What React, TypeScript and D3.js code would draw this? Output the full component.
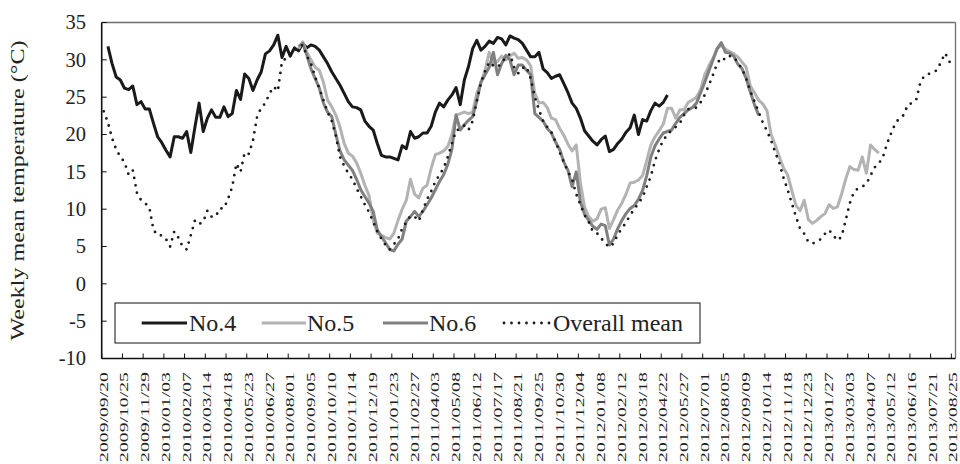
import React from "react";
import * as d3 from "d3";

// Weekly categories: 206 weeks from 2009/09/20 to 2013/08/25; a label every 5th week
const tickLabels = [
  "2009/09/20","2009/10/25","2009/11/29","2010/01/03","2010/02/07","2010/03/14","2010/04/18",
  "2010/05/23","2010/06/27","2010/08/01","2010/09/05","2010/10/10","2010/11/14","2010/12/19",
  "2011/01/23","2011/02/27","2011/04/03","2011/05/08","2011/06/12","2011/07/17","2011/08/21",
  "2011/09/25","2011/10/30","2011/12/04","2012/01/08","2012/02/12","2012/03/18","2012/04/22",
  "2012/05/27","2012/07/01","2012/08/05","2012/09/09","2012/10/14","2012/11/18","2012/12/23",
  "2013/01/27","2013/03/03","2013/04/07","2013/05/12","2013/06/16","2013/07/21","2013/08/25",
];
const weekCount = 206;
const yTicks = [-10, -5, 0, 5, 10, 15, 20, 25, 30, 35];

// No.4 (weeks 0..136)
const no4: (number | null)[] = [
  null, 31.8, 29.5, 27.7, 27.3, 26.2, 26.0, 26.5, 24.0, 24.4,
  23.4, 23.4, 21.5, 19.7, 18.9, 17.9, 17.0, 19.7, 19.7, 19.5,
  20.4, 17.6, 21.0, 24.2, 20.4, 22.2, 23.3, 22.3, 22.3, 23.7,
  22.4, 22.8, 25.9, 24.7, 28.1, 27.5, 25.9, 27.3, 28.4, 30.8,
  31.2, 32.0, 33.3, 30.3, 31.8, 30.5, 31.6, 31.2, 32.2, 31.6,
  32.0, 31.8, 31.3, 30.4, 29.5, 28.4, 27.5, 26.6, 25.5, 24.4,
  23.7, 23.6, 23.3, 21.8, 21.1, 20.6, 18.8, 17.2, 17.0, 17.0,
  16.8, 16.6, 18.5, 18.1, 20.4, 19.5, 19.7, 20.2, 20.2, 21.1,
  23.0, 24.2, 23.7, 24.6, 25.3, 26.3, 24.0, 27.3, 29.1, 31.5,
  32.6, 31.3, 31.8, 32.5, 32.2, 33.0, 32.8, 32.0, 33.2, 32.9,
  32.7, 32.2, 31.3, 30.4, 30.4, 31.0, 28.8, 28.3, 27.5, 27.8,
  28.0, 26.8, 25.6, 24.2, 23.5, 22.2, 20.5, 19.8, 19.1, 18.6,
  19.3, 19.8, 17.7, 18.0, 18.8, 19.4, 20.3, 20.9, 22.6, 20.0,
  22.0, 21.8, 23.2, 24.2, 23.8, 24.3, 25.3,
];

// No.5 (weeks 47..187)
const no5Start = 47;
const no5Values = [
  31.5, 32.4, 31.0, 30.0, 29.0, 28.6, 27.0, 24.6, 23.7, 22.6,
  21.0, 18.8, 17.5, 17.1, 16.2, 14.8, 13.2, 11.8, 8.5, 6.8,
  6.5, 6.2, 6.0, 6.8, 8.5, 10.0, 11.2, 14.0, 12.0, 11.5,
  12.8, 13.2, 15.5, 17.3, 17.5, 17.8, 18.4, 20.0, 22.6, 22.8,
  23.0, 22.8, 23.0, 25.5, 27.0, 28.6, 31.0, 29.5, 29.8, 30.5,
  30.0, 30.5, 30.9, 30.2, 30.3, 30.0, 29.2, 25.5, 24.2, 24.3,
  23.6, 22.2, 22.0, 20.8, 19.9, 18.7, 17.8, 18.6, 13.5, 10.3,
  9.0, 8.4, 8.7, 10.0, 10.2, 7.4, 8.6, 9.9, 10.8, 12.0,
  13.5, 13.6, 13.9, 14.5, 16.5, 18.6, 19.7, 20.5, 21.4, 23.5,
  23.5, 22.2, 23.3, 23.3, 24.3, 24.6, 25.0, 26.0, 28.0, 29.2,
  30.2, 31.5, 32.0, 31.4, 31.1, 30.8, 30.4, 29.7, 29.0, 26.5,
  25.6, 24.6, 24.1, 23.2, 20.0, 18.6, 17.0, 15.5, 14.6, 12.5,
  10.5, 9.8, 11.2, 8.6, 8.1, 8.5, 9.0, 9.4, 10.6, 10.1,
  10.3, 12.0, 14.0, 15.7, 15.3, 15.2, 17.0, 14.8, 18.6, 18.0,
  17.5,
];

// No.6 (weeks 47..158)
const no6Start = 47;
const no6Values = [
  31.8, 32.2, 30.6, 28.8, 27.5, 26.2, 24.2, 23.0, 22.4, 20.0,
  17.8, 16.6, 15.9, 15.2, 14.0, 12.6, 11.7, 10.8, 9.7, 7.2,
  6.3, 5.5, 4.6, 4.4, 5.3, 6.0, 8.4, 9.0, 9.7, 9.0,
  9.7, 10.6, 11.5, 12.6, 13.7, 14.6, 16.0, 18.0, 22.6, 20.6,
  21.3, 21.9, 22.4, 24.5, 27.0, 28.0, 29.0, 31.0, 28.0, 29.5,
  30.6, 30.0, 28.0, 29.3, 29.3, 28.6, 28.0, 22.8, 22.3, 21.8,
  20.8, 20.2, 19.0, 18.0, 16.3, 15.2, 13.0, 15.0, 11.0, 9.3,
  8.5, 7.7, 7.3, 8.0, 7.8, 5.2, 6.0, 7.4, 8.5, 9.4,
  10.1, 10.5, 11.3, 12.5, 14.5, 17.0, 18.5, 19.4, 20.2, 20.4,
  20.6, 21.5, 22.3, 22.8, 23.3, 23.6, 24.2, 25.6, 27.0, 28.5,
  30.0, 31.5, 32.3, 31.0, 30.9, 30.5, 29.4, 28.8, 27.5, 25.7,
  24.0, 22.6,
];

// Overall mean (weeks 0..205)
const overallMean = [
  23.1, 21.6, 19.5, 18.0, 17.0, 16.3, 14.6, 15.2, 12.2, 11.2,
  10.8, 10.2, 7.2, 6.5, 6.5, 6.0, 5.0, 7.0, 6.2, 5.0,
  4.6, 6.5, 8.5, 8.0, 8.3, 9.8, 9.0, 9.0, 10.1, 10.1,
  11.4, 13.0, 16.1, 15.0, 17.6, 17.4, 19.2, 22.4, 23.6, 24.2,
  25.5, 26.4, 25.8, 29.8, 30.2, 30.8, 31.2, 31.7, 32.0, 30.5,
  29.5, 27.7, 26.2, 24.6, 23.0, 21.8, 19.8, 17.0, 15.8, 14.8,
  14.0, 12.8, 11.7, 10.6, 9.6, 8.3, 7.0, 6.0, 5.2, 4.6,
  5.3, 6.0, 7.4, 8.3, 9.1, 9.0, 8.4, 9.9, 11.3, 12.4,
  13.7, 14.6, 15.5, 17.0, 18.8, 20.5, 20.8, 21.2, 20.6, 21.8,
  24.5, 26.9, 28.5, 29.7, 29.2, 29.0, 29.6, 30.3, 30.8, 29.0,
  28.2, 28.9, 29.1, 27.5, 25.0, 23.3, 21.8, 21.0, 20.3, 19.0,
  17.6, 16.3, 15.0, 14.0, 12.0, 10.6, 9.2, 8.3, 7.0, 6.8,
  6.1, 5.4, 4.9, 5.4, 6.6, 7.4, 8.2, 9.2, 10.0, 10.8,
  11.6, 13.0, 14.4, 16.5, 18.0, 19.3, 19.9, 20.6, 21.0, 21.5,
  22.6, 23.4, 23.5, 23.6, 24.3, 25.3, 26.6, 28.0, 29.5, 30.3,
  30.0, 30.5, 30.4, 29.6, 28.8, 27.5, 25.8, 24.4, 23.0, 21.6,
  20.5, 19.2, 17.6, 16.2, 14.2, 12.6, 10.8, 9.0, 7.4, 6.7,
  5.6, 5.4, 5.6, 6.0, 6.7, 7.2, 6.5, 5.8, 6.3, 8.5,
  10.8, 12.3, 12.8, 13.0, 13.4, 14.5, 15.6, 16.1, 17.0, 18.8,
  20.2, 21.5, 22.2, 22.6, 24.0, 24.2, 24.6, 26.9, 27.9, 28.1,
  28.3, 28.6, 29.7, 30.9, 29.8, 29.0,
];

const seriesNames = ["No.4", "No.5", "No.6", "Overall mean"];

const W = 960;
const H = 464;
const M = { left: 101.7, right: 4.5, top: 22.5, bottom: 105.5 };
const FONT = "'Liberation Serif', 'Times New Roman', Times, serif";

function toSeries(start: number, vals: (number | null)[]) {
  const arr: (number | null)[] = new Array(weekCount).fill(null);
  vals.forEach((v, k) => (arr[start + k] = v));
  return arr;
}

export default function App() {
  const idx = d3.range(weekCount);
  const x = d3
    .scaleBand<number>()
    .domain(idx)
    .range([M.left, W - M.right]);
  const bw = x.bandwidth();
  const cx = (i: number) => (x(i) as number) + bw / 2;
  const y = d3
    .scaleLinear()
    .domain([-10, 35])
    .range([H - M.bottom, M.top]);

  const line = d3
    .line<number | null>()
    .defined((d) => d != null)
    .x((_, i) => cx(i))
    .y((d) => y(d as number));

  const s4 = toSeries(0, no4);
  const s5 = toSeries(no5Start, no5Values);
  const s6 = toSeries(no6Start, no6Values);
  const sm = toSeries(0, overallMean);

  const x0 = M.left;
  const x1 = W - M.right;
  const yTop = M.top;
  const yBot = H - M.bottom;

  const boundaries = d3.range(0, weekCount + 1, 5).map((k) => (k === 0 ? x0 : (x(k) as number)));

  const legendItems = [
    { name: seriesNames[0], color: "#1a1a1a", lx0: 141.7, lx1: 187, tx: 189, dash: null as string | null, w: 3 },
    { name: seriesNames[1], color: "#b3b3b3", lx0: 261.7, lx1: 306, tx: 307, dash: null, w: 3 },
    { name: seriesNames[2], color: "#808080", lx0: 383, lx1: 428, tx: 429, dash: null, w: 3 },
    { name: seriesNames[3], color: "#1a1a1a", lx0: 504, lx1: 550, tx: 553, dash: "0 7.5", w: 2.8 },
  ];
  const legY = 323;

  return (
    <svg width={W} height={H} style={{ position: "absolute", left: 0, top: 0, fontFamily: FONT }}>
      <rect x={0} y={0} width={W} height={H} fill="#fff" />
      {/* plot frame: top/right grey */}
      <line x1={x0} x2={x1} y1={yTop} y2={yTop} stroke="#6e6e6e" strokeWidth={1.3} />
      <line x1={x1} x2={x1} y1={yTop} y2={yBot} stroke="#6e6e6e" strokeWidth={1.3} />

      {/* series */}
      <path d={line(s4) || ""} fill="none" stroke="#1a1a1a" strokeWidth={3} strokeLinejoin="round" />
      <path d={line(s5) || ""} fill="none" stroke="#b3b3b3" strokeWidth={3} strokeLinejoin="round" />
      <path d={line(s6) || ""} fill="none" stroke="#808080" strokeWidth={3} strokeLinejoin="round" />
      <path
        d={line(sm) || ""}
        fill="none"
        stroke="#1a1a1a"
        strokeWidth={2.8}
        strokeDasharray="0 7.5"
        strokeLinecap="round"
      />

      {/* y axis */}
      <line x1={x0} x2={x0} y1={yTop} y2={yBot} stroke="#111" strokeWidth={1.6} />
      {yTicks.map((t) => (
        <g key={t}>
          <line x1={x0} x2={x0 + 5} y1={y(t)} y2={y(t)} stroke="#111" strokeWidth={1} />
          <text x={86} y={y(t)} dy="0.34em" textAnchor="end" fontSize={20.5} fill="#222">
            {t}
          </text>
        </g>
      ))}
      <text
        transform={`translate(24,${(yTop + yBot) / 2}) rotate(-90)`}
        textAnchor="middle"
        fontSize={19.5}
        textLength={300}
        lengthAdjust="spacingAndGlyphs"
        fill="#222"
      >
        Weekly mean temperature (°C)
      </text>

      {/* x axis */}
      <line x1={x0} x2={x1} y1={yBot} y2={yBot} stroke="#111" strokeWidth={1.6} />
      {boundaries.map((bx, k) => (
        <line key={k} x1={bx} x2={bx} y1={yBot} y2={yBot - 5} stroke="#111" strokeWidth={1} />
      ))}
      {tickLabels.map((lab, k) => (
        <text
          key={lab}
          transform={`translate(${cx(k * 5) + 4},372) rotate(-90)`}
          textAnchor="end"
          fontSize={13.5}
          textLength={90}
          lengthAdjust="spacingAndGlyphs"
          fill="#222"
        >
          {lab}
        </text>
      ))}

      {/* legend */}
      <rect x={115} y={303} width={585} height={40} fill="#fff" stroke="#111" strokeWidth={1} />
      {legendItems.map((it) => (
        <g key={it.name}>
          <line
            x1={it.lx0}
            x2={it.lx1}
            y1={legY}
            y2={legY}
            stroke={it.color}
            strokeWidth={it.w}
            strokeDasharray={it.dash || undefined}
            strokeLinecap={it.dash ? "round" : "butt"}
          />
          <text x={it.tx} y={legY} dy="0.34em" fontSize={24} fill="#222">
            {it.name}
          </text>
        </g>
      ))}
    </svg>
  );
}
